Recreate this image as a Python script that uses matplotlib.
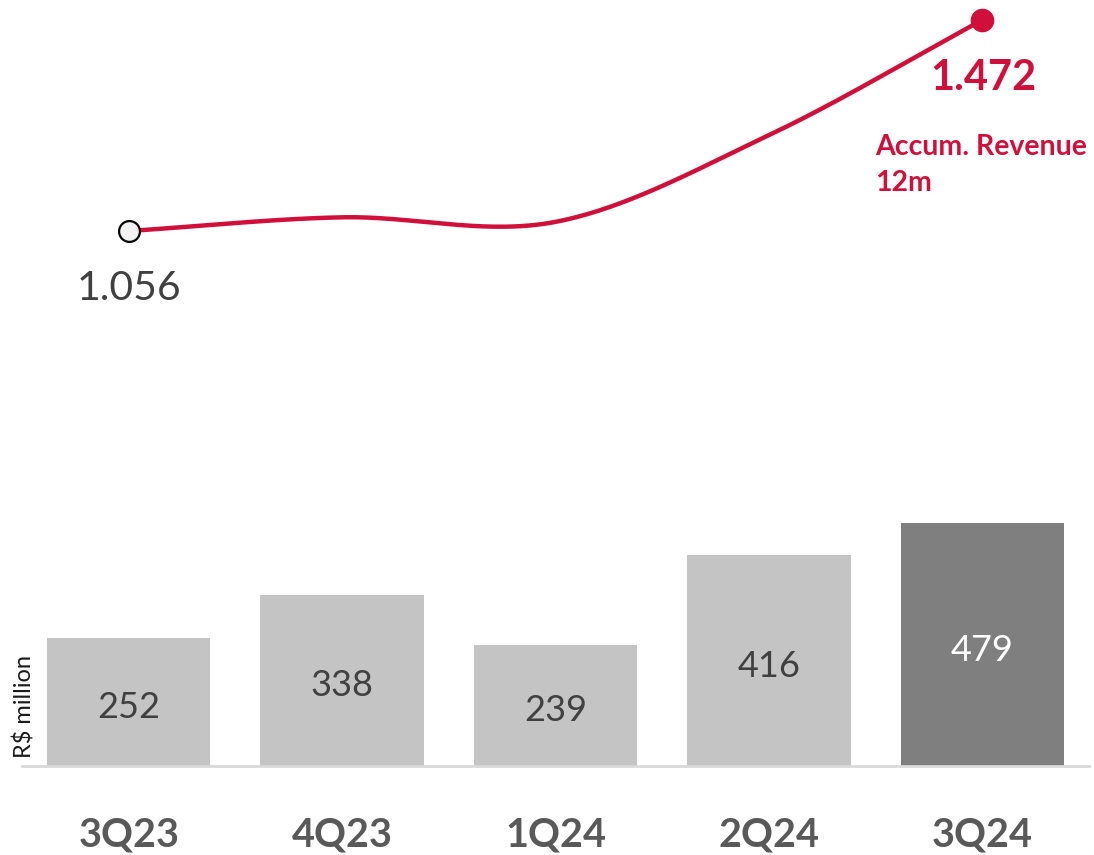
import numpy as np
import matplotlib
matplotlib.use("Agg")
import matplotlib.pyplot as plt

categories = ["3Q23", "4Q23", "1Q24", "2Q24", "3Q24"]
quarterly_revenue = [252, 338, 239, 416, 479]
accum_revenue_12m = [1056, 1083, 1074, 1245, 1472]
bar_labels = ["252", "338", "239", "416", "479"]
first_label = "1.056"
last_label = "1.472"
line_label = "Accum. Revenue\n12m"
y_axis_label = "R$ million"

RED = "#D0103A"
LIGHT = "#C4C4C4"
DARK = "#7F7F7F"
TXT = "#404040"
TICK = "#595959"

plt.rcParams["font.family"] = ["Lato", "DejaVu Sans"]

W, H = 1094, 855
fig = plt.figure(figsize=(W / 100, H / 100), dpi=100)

def frac(x0, y0_top, x1, y1_top):
    return [x0 / W, 1 - y1_top / H, (x1 - x0) / W, (y1_top - y0_top) / H]

# Bar axes
x = np.arange(len(categories))
axb = fig.add_axes(frac(22, 512.5, 1089, 766))
axb.bar(x, quarterly_revenue, width=0.765,
        color=[LIGHT] * (len(x) - 1) + [DARK], zorder=2)
axb.set_xlim(-0.5, len(x) - 0.5)
axb.set_ylim(0, 500)
for s in ["top", "right", "left"]:
    axb.spines[s].set_visible(False)
axb.spines["bottom"].set_color("#D9D9D9")
axb.spines["bottom"].set_linewidth(2)
axb.set_yticks([])
axb.set_xticks(x)
axb.set_xticklabels(categories, fontsize=28.5, fontweight="bold", color=TICK)
axb.tick_params(axis="x", length=0, pad=36)
for i, (v, lab) in enumerate(zip(quarterly_revenue, bar_labels)):
    axb.annotate(lab, (i, v / 2), xytext=(0, -4), textcoords="offset points",
                 ha="center", va="center", fontsize=26,
                 color="white" if i == len(x) - 1 else TXT)
axb.patch.set_alpha(0)

fig.text(25 / W, 1 - 706 / H, y_axis_label, rotation=90, ha="center",
         va="center", fontsize=17, color="#1a1a1a")

# Line axes
axl = fig.add_axes(frac(22, 5.8, 1089, 259.4))
axl.set_xlim(-0.5, len(x) - 0.5)
axl.set_ylim(1000, 1500)
axl.axis("off")
axl.patch.set_alpha(0)

# Catmull-Rom smoothing of the line (rendering only)
px = x.astype(float)
py = np.array(accum_revenue_12m, dtype=float)
ext_x = np.concatenate([[2 * px[0] - px[1]], px, [2 * px[-1] - px[-2]]])
ext_y = np.concatenate([[2 * py[0] - py[1]], py, [2 * py[-1] - py[-2]]])
cx, cy = [], []
t = np.linspace(0, 1, 60)
for i in range(1, len(ext_x) - 2):
    p0, p1, p2, p3 = [np.array([ext_x[j], ext_y[j]]) for j in range(i - 1, i + 3)]
    for tt in t:
        pt = 0.5 * ((2 * p1) + (-p0 + p2) * tt +
                    (2 * p0 - 5 * p1 + 4 * p2 - p3) * tt ** 2 +
                    (-p0 + 3 * p1 - 3 * p2 + p3) * tt ** 3)
        cx.append(pt[0]); cy.append(pt[1])
axl.plot(cx, cy, color=RED, lw=3.2, solid_capstyle="round", zorder=2)
axl.plot(px[0], py[0], "o", ms=15, mfc="#F2F2F2", mec="black", mew=1.6, zorder=3)
axl.plot(px[-1], py[-1], "o", ms=16, mfc=RED, mec=RED, zorder=3)

axl.annotate(first_label, (px[0], py[0]), xytext=(0, -41.5), textcoords="offset points",
             ha="center", va="center", fontsize=29.5, color=TXT)
axl.annotate(last_label, (px[-1], py[-1]), xytext=(1, -42), textcoords="offset points",
             ha="center", va="center", fontsize=30, fontweight="bold", color=RED)
axl.annotate(line_label, (px[-1], py[-1]), xytext=(-77, -82), textcoords="offset points",
             ha="left", va="top", fontsize=20.5, fontweight="bold", color=RED,
             linespacing=1.5)

fig.savefig("out.png", dpi=100)
